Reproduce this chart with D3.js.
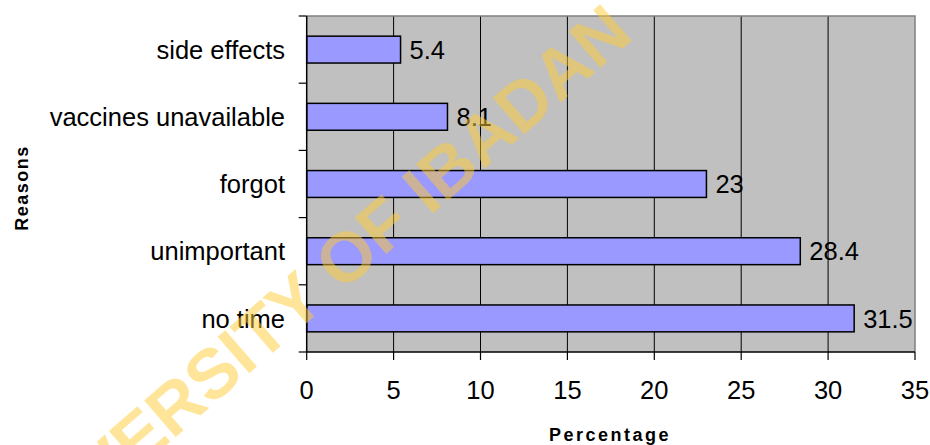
<!DOCTYPE html>
<html>
<head>
<meta charset="utf-8">
<script src="https://cdn.jsdelivr.net/npm/d3@7"></script>
<style>
  html, body { margin: 0; padding: 0; background: #ffffff; }
  svg { display: block; font-family: "Liberation Sans", Arial, sans-serif; }
</style>
</head>
<body>
<svg id="chart" width="930" height="445"></svg>
<script>
const categories = ["side effects", "vaccines unavailable", "forgot", "unimportant", "no time"];
const values = [5.4, 8.1, 23, 28.4, 31.5];
const xTicks = [0, 5, 10, 15, 20, 25, 30, 35];
const xTitle = "Percentage";
const yTitle = "Reasons";
const watermark = "UNIVERSITY OF IBADAN";

const svg = d3.select("#chart");
const m = { left: 306.7, right: 915, top: 16, bottom: 352 };

const x = d3.scaleLinear().domain([0, 35]).range([m.left, m.right]);
const y = d3.scaleBand().domain(categories).range([m.top, m.bottom])
  .paddingInner(0.6).paddingOuter(0.3);

// plot background
svg.append("rect")
  .attr("x", m.left).attr("y", m.top)
  .attr("width", m.right - m.left).attr("height", m.bottom - m.top)
  .attr("fill", "#c0c0c0");

// gridlines
svg.append("g").selectAll("line")
  .data(xTicks.filter(d => d > 0 && d < 35))
  .join("line")
  .attr("x1", d => x(d)).attr("x2", d => x(d))
  .attr("y1", m.top).attr("y2", m.bottom)
  .attr("stroke", "#000").attr("stroke-width", 1);

// top and right border (gray)
svg.append("path")
  .attr("d", `M${m.left},${m.top}H${m.right}V${m.bottom}`)
  .attr("fill", "none").attr("stroke", "#808080").attr("stroke-width", 1.5);

// bars
svg.append("g").selectAll("rect")
  .data(categories)
  .join("rect")
  .attr("x", x(0))
  .attr("y", d => y(d))
  .attr("width", (d, i) => x(values[i]) - x(0))
  .attr("height", y.bandwidth())
  .attr("fill", "#9999ff")
  .attr("stroke", "#000")
  .attr("stroke-width", 1.5);

// value labels
svg.append("g").selectAll("text")
  .data(categories)
  .join("text")
  .attr("x", (d, i) => x(values[i]) + 9)
  .attr("y", d => y(d) + y.bandwidth() / 2)
  .attr("dy", "0.36em")
  .attr("font-size", "25.5px")
  .attr("fill", "#000")
  .text((d, i) => values[i]);

// y axis
const yAxisG = svg.append("g");
yAxisG.append("line")
  .attr("x1", m.left).attr("x2", m.left)
  .attr("y1", m.top).attr("y2", m.bottom)
  .attr("stroke", "#000").attr("stroke-width", 1.5);
const step = y.step();
const boundaries = d3.range(categories.length + 1).map(i => m.top + i * step);
yAxisG.selectAll("line.tick")
  .data(boundaries)
  .join("line").attr("class", "tick")
  .attr("x1", m.left - 8).attr("x2", m.left)
  .attr("y1", d => d).attr("y2", d => d)
  .attr("stroke", "#000").attr("stroke-width", 1.2);
yAxisG.selectAll("text")
  .data(categories)
  .join("text")
  .attr("x", 285)
  .attr("y", d => y(d) + y.bandwidth() / 2)
  .attr("dy", "0.36em")
  .attr("text-anchor", "end")
  .attr("font-size", "25.5px")
  .attr("fill", "#000")
  .text(d => d);

// x axis
const xAxisG = svg.append("g");
xAxisG.append("line")
  .attr("x1", m.left).attr("x2", m.right)
  .attr("y1", m.bottom).attr("y2", m.bottom)
  .attr("stroke", "#000").attr("stroke-width", 1.5);
xAxisG.selectAll("line.tick")
  .data(xTicks)
  .join("line").attr("class", "tick")
  .attr("x1", d => x(d)).attr("x2", d => x(d))
  .attr("y1", m.bottom).attr("y2", m.bottom + 8)
  .attr("stroke", "#000").attr("stroke-width", 1.2);
xAxisG.selectAll("text")
  .data(xTicks)
  .join("text")
  .attr("x", d => x(d))
  .attr("y", 399)
  .attr("text-anchor", "middle")
  .attr("font-size", "25.5px")
  .attr("fill", "#000")
  .text(d => d);

// axis titles
svg.append("text")
  .attr("x", 610).attr("y", 441)
  .attr("text-anchor", "middle")
  .attr("font-size", "18px").attr("font-weight", "bold")
  .attr("letter-spacing", "2.5px")
  .attr("fill", "#000")
  .text(xTitle);

svg.append("text")
  .attr("transform", "translate(28,188) rotate(-90)")
  .attr("text-anchor", "middle")
  .attr("font-size", "18px").attr("font-weight", "bold")
  .attr("letter-spacing", "1.5px")
  .attr("fill", "#000")
  .text(yTitle);

// watermark
svg.append("text")
  .attr("transform", "translate(323,309) rotate(-41)")
  .attr("text-anchor", "middle")
  .attr("font-size", "70px").attr("font-weight", "bold")
  .attr("fill", "#ffcc33")
  .attr("fill-opacity", 0.5)
  .text(watermark);
</script>
</body>
</html>
